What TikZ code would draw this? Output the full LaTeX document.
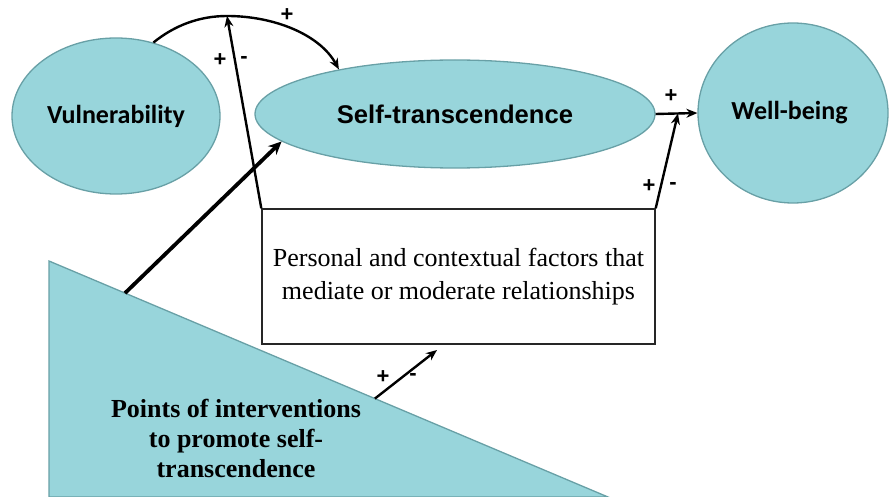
\documentclass[tikz,border=0pt]{standalone}
\usepackage{fontspec}
\setmainfont{Liberation Serif}
\setsansfont{Liberation Sans}
\newfontfamily\roundsans{Carlito}
\usetikzlibrary{shapes.geometric,arrows.meta,calc}

\definecolor{aqua}{RGB}{152,213,219}
\definecolor{aquaedge}{RGB}{104,160,166}

\begin{document}
\begin{tikzpicture}[x=1pt,y=-1pt,
  bubble/.style={ellipse, draw=aquaedge, fill=aqua, line width=1.3pt, inner sep=0pt},
  bubbletext/.style={font=\roundsans\bfseries\fontsize{26}{30}\selectfont},
  factorbox/.style={draw=black!85, fill=white, line width=1.4pt, inner sep=0pt,
    align=center, font=\fontsize{26}{33}\selectfont},
  wedge/.style={draw=aquaedge, fill=aqua, line width=1.3pt},
  arr/.style={line width=2.4pt, -{Stealth[length=11pt,width=9pt]}},
  thickarr/.style={line width=3.8pt, -{Stealth[length=13pt,width=12pt]}},
  sign/.style={font=\sffamily\bfseries\fontsize{22}{22}\selectfont, inner sep=0pt}
]
\useasboundingbox (0,0) rectangle (890,497);

% intervention wedge
\coordinate (tA) at (49,261);
\coordinate (tB) at (49,497);
\coordinate (tC) at (608,497);
\path[wedge] (tA) -- (tC) -- (tB) -- cycle;
\node[font=\bfseries\fontsize{26}{30}\selectfont, align=center] (poi) at (236,438)
  {Points of interventions\\to promote self-\\transcendence};

% main concepts
\node[bubble, bubbletext, minimum width=208pt, minimum height=156pt] (vul) at (116,116) {Vulnerability};
\node[bubble, font=\sffamily\bfseries\fontsize{25.6}{30}\selectfont,
  minimum width=400pt, minimum height=108pt] (st) at (455,114) {Self-transcendence};
\node[bubble, minimum width=190pt, minimum height=180pt] (wb) at (793,113) {};
\node[bubbletext] (wbt) at (789.5,113) {Well-being};

% mediating / moderating factors
\node[factorbox, minimum width=393pt, minimum height=135pt] (box) at (458.5,276.5)
  {Personal and contextual factors that\\mediate or moderate relationships};

% helper points
\coordinate (peak) at (227,16);
\coordinate (join) at ($(st.east)!0.535!(wb.west)$);
\coordinate (fa) at (437,350);
\coordinate (hypA) at ($(tA)!0.136!(tC)$);
\coordinate (hypB) at ($(tA)!0.583!(tC)$);

% connectors
\draw[arr] (vul.63) .. controls (175,25) and (200,16) .. (peak)
  .. controls (275,16) and (320,35) .. (st.159);
\draw[arr] (box.north west) -- (peak);
\draw[thickarr] (hypA) -- (st.189.5);
\draw[arr] (st.east) -- (wb.west);
\draw[arr] (box.north east) -- (join);
\draw[arr] (hypB) -- (fa);

% signs
\node[sign] (s1) at (287,15) {+};
\node[sign] (s2) at (220,60) {+};
\node[sign] (s3) at (244,60) {-};
\node[sign] (s4) at (671,96) {+};
\node[sign] (s5) at (649,186) {+};
\node[sign] (s6) at (673,186) {-};
\node[sign] (s7) at (383,377) {+};
\node[sign] (s8) at (413,377) {-};
\end{tikzpicture}
\end{document}
